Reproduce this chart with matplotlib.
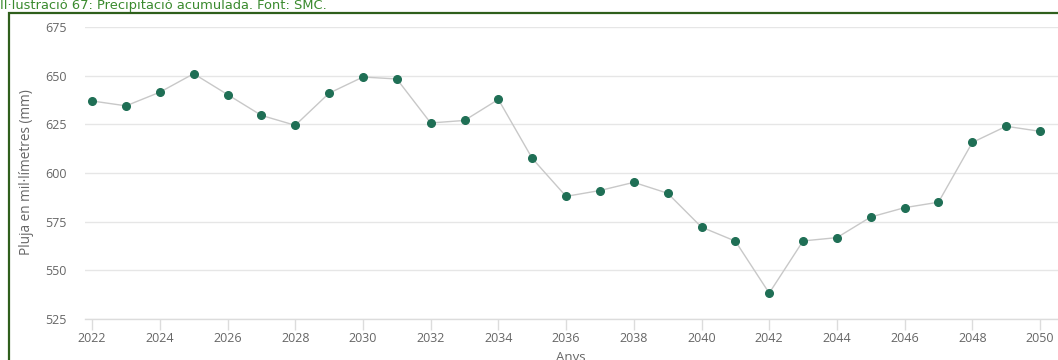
import matplotlib
matplotlib.use("Agg")
import matplotlib.pyplot as plt
from matplotlib.patches import Rectangle

# Accumulated precipitation per year (mm)
years = list(range(2022, 2051))
rain_mm = [637, 634.5, 641.5, 651, 640.3, 629.6, 624.5, 641, 649.3, 648.3,
           625.7, 627, 637.8, 607.5, 588, 591, 595.2, 589.6, 572.2, 565,
           538.3, 565.1, 566.8, 577.4, 582.2, 585, 615.7, 624, 621.4]
y_ticks = [525, 550, 575, 600, 625, 650, 675]
x_ticks = list(range(2022, 2051, 2))

title = "Il·lustració 67: Precipitació acumulada. Font: SMC."
y_title = "Pluja en mil·límetres (mm)"
x_title = "Anys"

W, H, DPI = 1058, 360, 100
fig = plt.figure(figsize=(W / DPI, H / DPI), dpi=DPI)
fig.patch.set_facecolor("white")

def px(x, y):
    return x / W, 1 - y / H

# caption above the framed chart
fig.text(*px(0, 9.5), title, color="#3a8a2e", fontsize=9.4,
         family="DejaVu Sans", ha="left", va="baseline")

# frame around the chart
fig.patches.append(Rectangle(px(9, 380), (W + 20) / W, (380 - 13) / H,
                             transform=fig.transFigure, fill=False,
                             edgecolor="#2f5f1c", linewidth=1.6, zorder=0))

left, right, top, bottom = 85, 1058, 27, 319
ax = fig.add_axes([left / W, 1 - bottom / H, (right - left) / W, (bottom - top) / H])
ax.set_facecolor("none")

ax.plot(years, rain_mm, color="#c8c8c8", linewidth=1.0, zorder=2)
ax.plot(years, rain_mm, linestyle="none", marker="o", markersize=5.5,
        markerfacecolor="#1f6f55", markeredgecolor="#1f6f55", zorder=3)

ax.set_xlim(2021.79, 2050.53)
ax.set_ylim(525, 675)
ax.set_yticks(y_ticks)
ax.set_xticks(x_ticks)

for s in ["top", "right", "left"]:
    ax.spines[s].set_visible(False)
ax.spines["bottom"].set_color("#dcdcdc")
ax.spines["bottom"].set_linewidth(1.0)

ax.grid(axis="y", color="#e6e6e6", linewidth=1.0)
ax.set_axisbelow(True)

ax.tick_params(axis="y", length=0, pad=13.5)
ax.tick_params(axis="x", length=8, width=1.0, color="#dcdcdc", pad=1.5)
for t in ax.get_yticklabels() + ax.get_xticklabels():
    t.set_fontfamily("Open Sans")
    t.set_fontsize(9)
    t.set_color("#666666")

fig.text(*px(27, 172), y_title, rotation=90, ha="center", va="center",
         family="Open Sans", size=9.8, color="#666666")
fig.text(*px(571, 357), x_title, ha="center", va="center",
         family="Open Sans", size=9.5, color="#666666")

fig.savefig("out.png", dpi=DPI)
